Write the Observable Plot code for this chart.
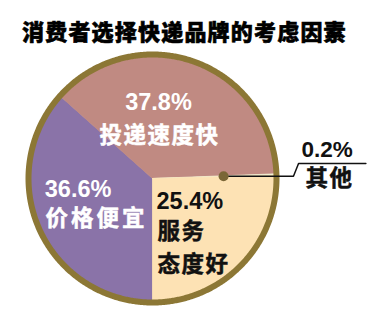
<!DOCTYPE html>
<html>
<head>
<meta charset="utf-8">
<script src="https://cdn.jsdelivr.net/npm/d3@7"></script>
<script src="https://cdn.jsdelivr.net/npm/@observablehq/plot@0.6"></script>
<style>
  body { margin: 0; background: #fff; }
  #title {
    margin: 0; padding: 19px 0 0 22px; height: 29px;
    font: 900 22px/22px "Noto Sans CJK SC", sans-serif;
    letter-spacing: 1.2px; color: #000; white-space: nowrap;
    -webkit-text-stroke: 0.6px #000;
  }
  #chart svg { display: block; }
</style>
</head>
<body>
<div id="title">消费者选择快递品牌的考虑因素</div>
<div id="chart"></div>
<script>
// Survey shares, listed clockwise from 6 o'clock
const categories = ["价格便宜", "投递速度快", "其他", "服务态度好"];
const shares = [36.6, 37.8, 0.2, 25.4];
const nameLabels = ["价格便宜", "投递速度快", "其他", "服务\n态度好"];
const colors = ["#8a73a8", "#c08a82", "#f3efd0", "#fde2b4"];

const rows = categories.map((c, i) => ({cat: c, share: shares[i], name: nameLabels[i]}));

// Pie angles (0 = 12 o'clock, clockwise), starting at the bottom
const arcs = d3.pie().sort(null).value(d => d.share)
  .startAngle(Math.PI).endAngle(3 * Math.PI)(rows);

const R = 124 / 127;          // fill radius, under the rim
const polar = (a, r) => ({x: r * Math.sin(a), y: r * Math.cos(a)});

// Each slice as a closed outline: centre → arc → centre
const slicePoints = arcs.flatMap(a => {
  const n = Math.max(2, Math.ceil((a.endAngle - a.startAngle) / 0.005));
  const pts = [{cat: a.data.cat, x: 0, y: 0}];
  for (let k = 0; k <= n; ++k) {
    const t = a.startAngle + (a.endAngle - a.startAngle) * k / n;
    pts.push({cat: a.data.cat, ...polar(t, R)});
  }
  pts.push({cat: a.data.cat, x: 0, y: 0});
  return pts;
});

const rimPoints = d3.range(0, 720).map(k => polar(k / 720 * 2 * Math.PI, R));

// Label anchors at each slice's centroid
const anchors = arcs.map(a => {
  const mid = (a.startAngle + a.endAngle) / 2;
  return {...a.data, mid, ...polar(mid, 0.55), value: a.data.share.toFixed(1) + "%"};
});
const byCat = Object.fromEntries(anchors.map(d => [d.cat, d]));

const numFont = "'Liberation Sans', Arial, sans-serif";
const cjkFont = "'Noto Sans CJK SC', sans-serif";

// In-slice label placement (pixel offsets from the centroid)
const inside = [
  {cat: "价格便宜", fill: "#fff", anchor: "start", v: [-44, -18], n: [-43.2, 8.5]},
  {cat: "投递速度快", fill: "#fff", anchor: "middle", v: [-17.7, -10.8], n: [-16.7, 20.2]},
  {cat: "服务态度好", fill: "#111", anchor: "start", v: [-46, -25.3], n: [-45, 18]}
];

const insideMarks = inside.flatMap(s => [
  Plot.text([byCat[s.cat]], {
    x: "x", y: "y", text: "value", dx: s.v[0], dy: s.v[1],
    fill: s.fill, textAnchor: s.anchor, fontFamily: numFont,
    fontSize: 23.5, fontWeight: "bold"
  }),
  Plot.text([byCat[s.cat]], {
    x: "x", y: "y", text: "name", dx: s.n[0], dy: s.n[1],
    fill: s.fill, stroke: s.fill, strokeWidth: 0.5,
    textAnchor: s.anchor, fontFamily: cjkFont,
    fontSize: 22.5, fontWeight: "bold", lineHeight: 1.44
  })
]);

// Callout for the tiny slice
const tiny = {...byCat["其他"], ...polar(byCat["其他"].mid, 0.56)};
const leader = [
  {x: tiny.x, y: tiny.y},
  {x: 1.11, y: tiny.y},
  {x: 1.15, y: tiny.y + 0.1},
  {x: 1.68, y: tiny.y + 0.1}
];

const chart = Plot.plot({
  width: 376,
  height: 272,
  marginLeft: 25,
  marginRight: 97,
  marginTop: 3,
  marginBottom: 15,
  x: {domain: [-1, 1], axis: null},
  y: {domain: [-1, 1], axis: null},
  color: {domain: categories, range: colors},
  style: {background: "#fff", overflow: "visible"},
  marks: [
    Plot.line(slicePoints, {x: "x", y: "y", z: "cat", fill: "cat", stroke: "cat", strokeWidth: 0.8}),
    Plot.line(rimPoints, {x: "x", y: "y", stroke: "#8c7735", strokeWidth: 6, curve: "linear-closed"}),
    ...insideMarks,
    Plot.line(leader, {x: "x", y: "y", stroke: "#111", strokeWidth: 1.5}),
    Plot.dot([tiny], {x: "x", y: "y", r: 5, fill: "#7a6636", stroke: "none"}),
    Plot.text([tiny], {
      x: 1.173, y: d => d.y + 0.21, text: "value", textAnchor: "start",
      fill: "#111", fontFamily: numFont, fontSize: 22.5, fontWeight: "bold"
    }),
    Plot.text([tiny], {
      x: 1.205, y: d => d.y - 0.02, text: "name", textAnchor: "start",
      fill: "#111", stroke: "#111", strokeWidth: 0.5,
      fontFamily: cjkFont, fontSize: 22.5, fontWeight: "bold"
    })
  ]
});

// Spacing between the Chinese characters of the labels
d3.select(chart).selectAll("text, tspan")
  .filter(function () { return /[\u4e00-\u9fff]/.test(this.textContent); })
  .style("letter-spacing", function () { return this.textContent === "价格便宜" ? "3px" : "1.5px"; });

document.getElementById("chart").append(chart);
</script>
</body>
</html>
